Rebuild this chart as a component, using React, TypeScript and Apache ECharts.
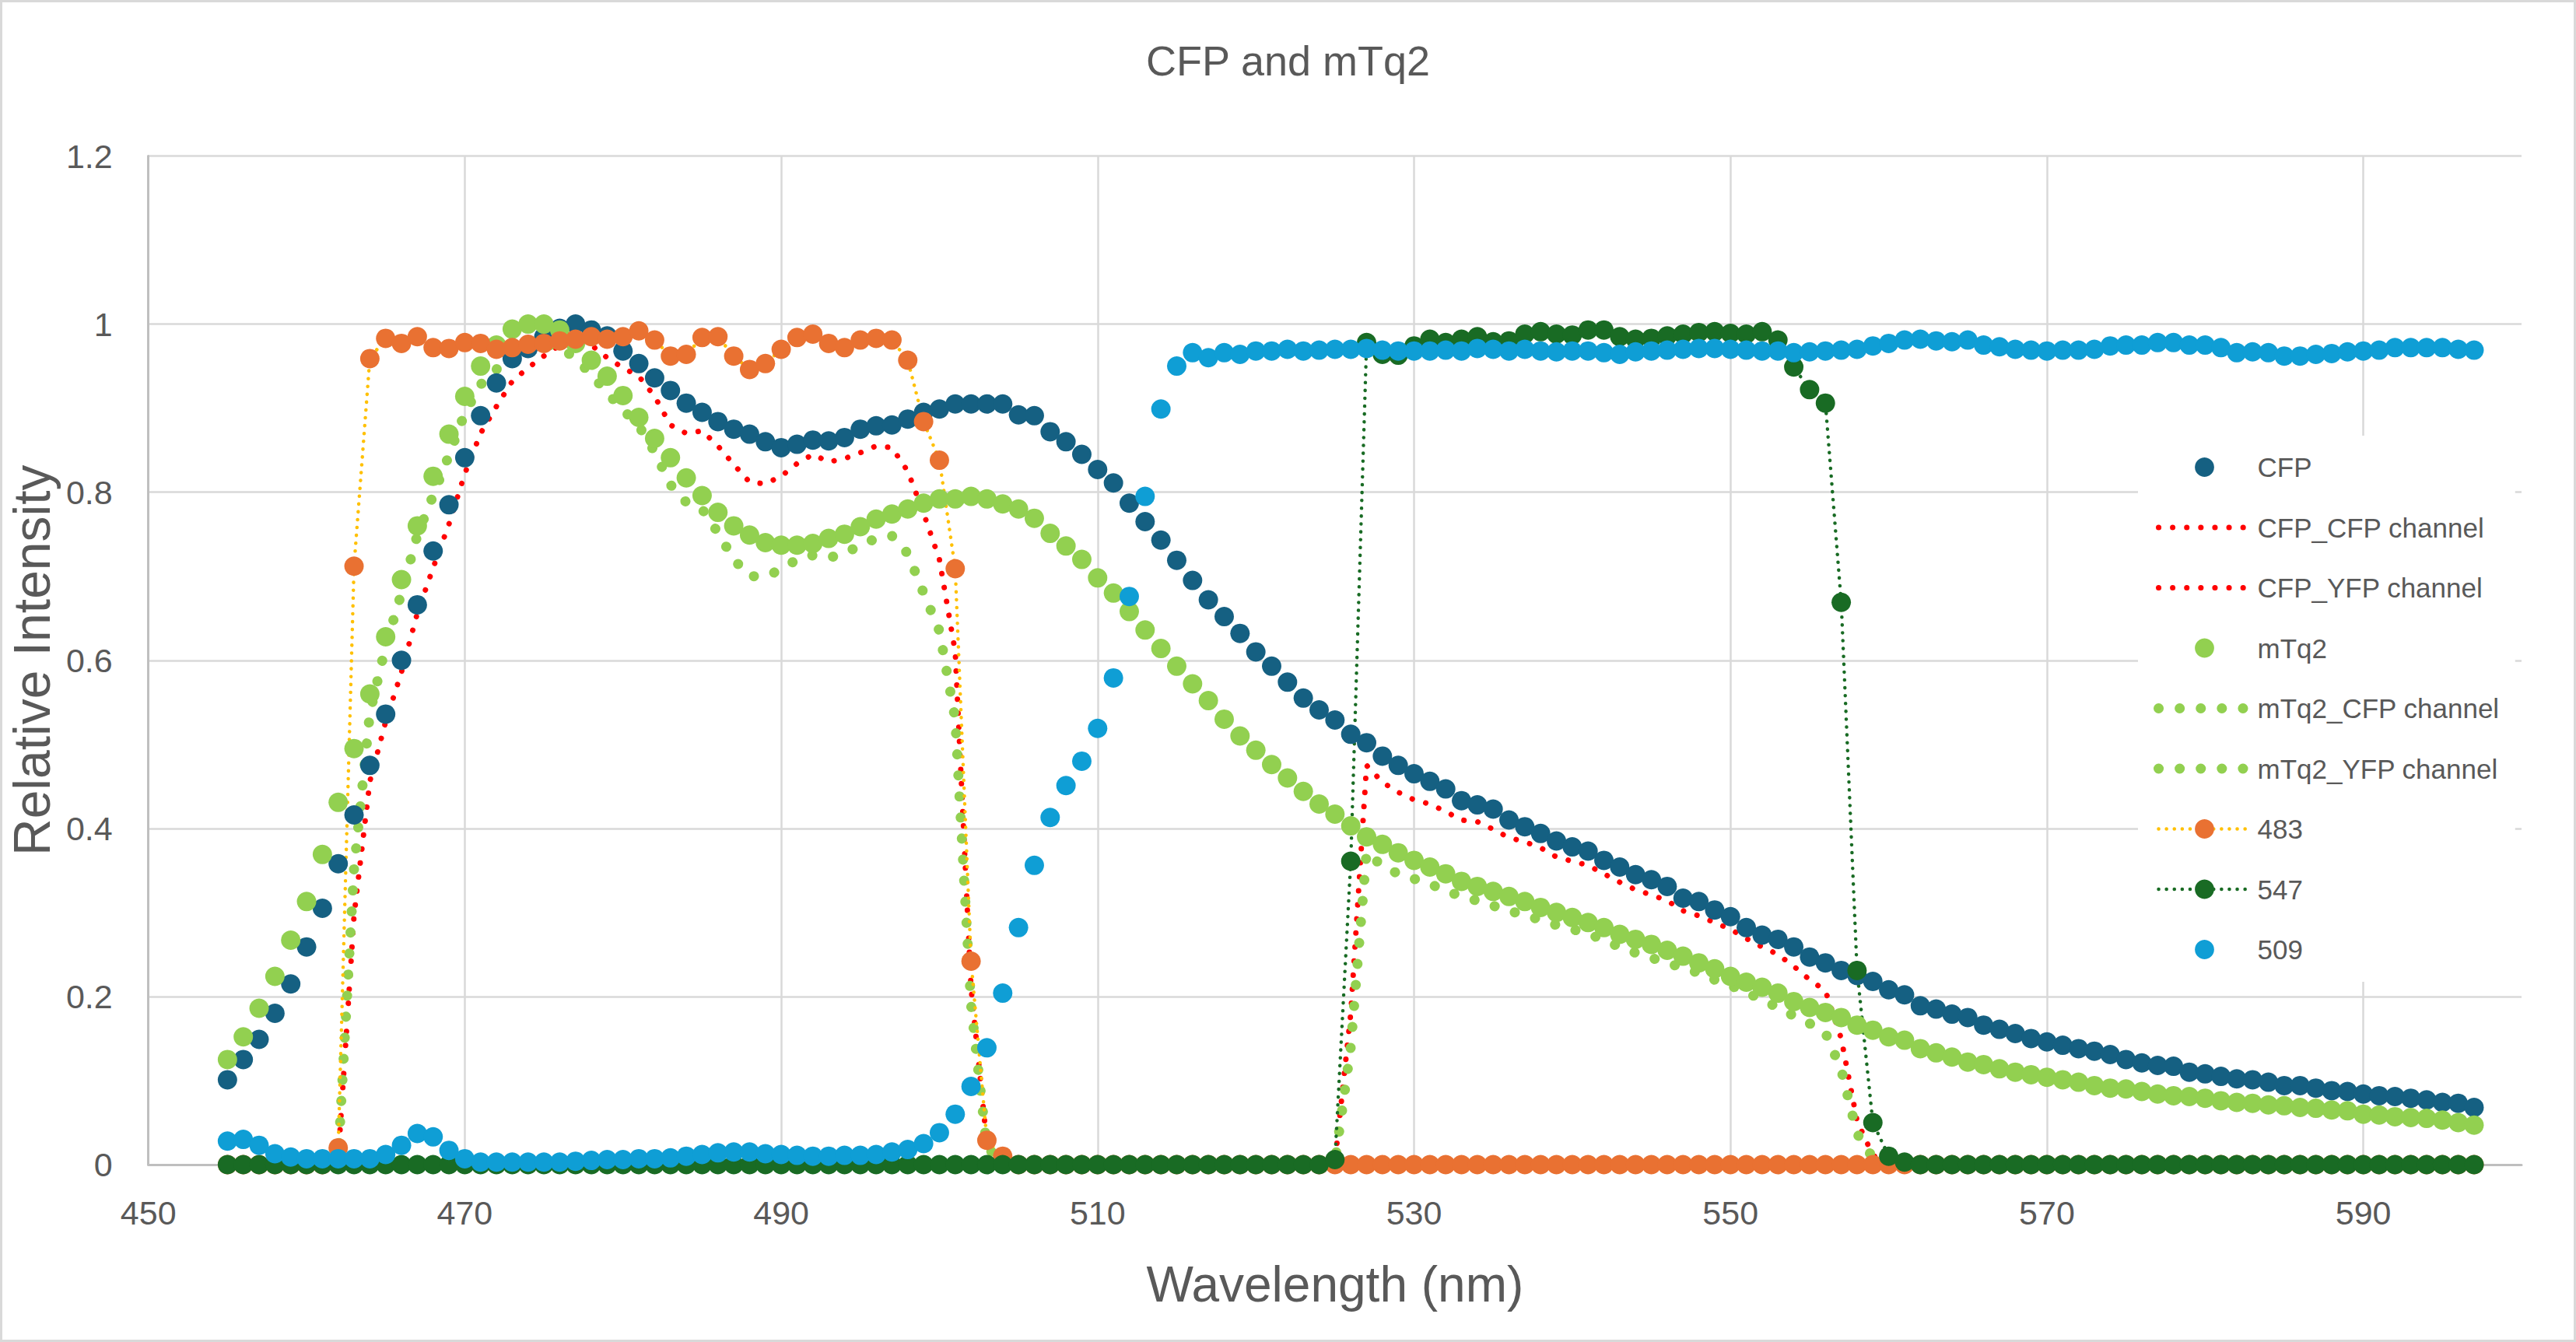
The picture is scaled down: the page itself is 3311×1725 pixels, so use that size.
import React, { useEffect, useRef } from "react";
import * as echarts from "echarts";

// Wavelengths start at 455 nm and step by 1 nm (143 samples, 455..597)
const START_NM = 455;

const CFP = [
  0.101, 0.125, 0.149, 0.180, 0.215, 0.259, 0.305, 0.358, 0.416, 0.475,
  0.536, 0.600, 0.666, 0.730, 0.785, 0.841, 0.891, 0.930, 0.959, 0.971,
  0.985, 0.995, 1.000, 0.993, 0.986, 0.968, 0.953, 0.936, 0.921, 0.906,
  0.895, 0.884, 0.875, 0.869, 0.860, 0.853, 0.857, 0.862, 0.861, 0.865,
  0.875, 0.879, 0.880, 0.887, 0.895, 0.899, 0.905, 0.905, 0.905, 0.905,
  0.892, 0.891, 0.872, 0.860, 0.845, 0.827, 0.811, 0.787, 0.765, 0.743,
  0.719, 0.695, 0.672, 0.652, 0.632, 0.610, 0.593, 0.574, 0.555, 0.541,
  0.529, 0.512, 0.502, 0.486, 0.475, 0.465, 0.456, 0.447, 0.433, 0.428,
  0.423, 0.410, 0.402, 0.394, 0.385, 0.378, 0.373, 0.362, 0.354, 0.345,
  0.339, 0.331, 0.317, 0.313, 0.303, 0.295, 0.282, 0.273, 0.268, 0.259,
  0.247, 0.240, 0.231, 0.225, 0.218, 0.208, 0.202, 0.189, 0.185, 0.179,
  0.175, 0.166, 0.161, 0.156, 0.150, 0.146, 0.142, 0.138, 0.135, 0.131,
  0.125, 0.121, 0.118, 0.117, 0.110, 0.108, 0.105, 0.102, 0.101, 0.098,
  0.094, 0.094, 0.091, 0.088, 0.087, 0.084, 0.082, 0.081, 0.079, 0.077,
  0.074, 0.073, 0.068,
];

const CFP_CFP = [
  0, 0, 0, 0, 0, 0, 0, 0.007, 0.296, 0.456,
  0.527, 0.586, 0.656, 0.710, 0.762, 0.822, 0.870, 0.902, 0.932, 0.948,
  0.962, 0.975, 0.980, 0.975, 0.960, 0.948, 0.938, 0.914, 0.880, 0.870,
  0.873, 0.855, 0.833, 0.812, 0.810, 0.819, 0.834, 0.845, 0.836, 0.840,
  0.847, 0.855, 0.853, 0.825, 0.775, 0.720, 0.610, 0.210, 0.025, 0.005,
  0, 0, 0, 0, 0, 0, 0, 0, 0, 0,
  0, 0, 0, 0, 0, 0, 0, 0, 0, 0,
  0, 0, 0, 0, 0, 0, 0, 0, 0, 0,
  0, 0, 0, 0, 0, 0, 0, 0, 0, 0,
  0, 0, 0, 0, 0, 0, 0, 0, 0, 0,
  0, 0, 0, 0, 0, 0, 0, 0, 0, 0,
  0, 0, 0, 0, 0, 0, 0, 0, 0, 0,
  0, 0, 0, 0, 0, 0, 0, 0, 0, 0,
  0, 0, 0, 0, 0, 0, 0, 0, 0, 0,
  0, 0, 0,
];

const CFP_YFP = [
  0, 0, 0, 0, 0, 0, 0, 0, 0, 0,
  0, 0, 0, 0, 0, 0, 0, 0, 0, 0,
  0, 0, 0, 0, 0, 0, 0, 0, 0, 0,
  0, 0, 0, 0, 0, 0, 0, 0, 0, 0,
  0, 0, 0, 0, 0, 0, 0, 0, 0, 0,
  0, 0, 0, 0, 0, 0, 0, 0, 0, 0,
  0, 0, 0, 0, 0, 0, 0, 0, 0, 0,
  0.003, 0.180, 0.475, 0.455, 0.443, 0.434, 0.429, 0.420, 0.410, 0.408,
  0.399, 0.389, 0.384, 0.377, 0.366, 0.361, 0.356, 0.346, 0.336, 0.327,
  0.321, 0.314, 0.302, 0.296, 0.288, 0.280, 0.269, 0.259, 0.250, 0.236,
  0.220, 0.207, 0.150, 0.052, 0.011, 0.002, 0, 0, 0, 0,
  0, 0, 0, 0, 0, 0, 0, 0, 0, 0,
  0, 0, 0, 0, 0, 0, 0, 0, 0, 0,
  0, 0, 0, 0, 0, 0, 0, 0, 0, 0,
  0, 0, 0,
];

const MTQ2 = [
  0.125, 0.152, 0.186, 0.224, 0.267, 0.313, 0.369, 0.431, 0.495, 0.560,
  0.628, 0.696, 0.760, 0.819, 0.869, 0.914, 0.950, 0.975, 0.994, 1.000,
  1.000, 0.993, 0.977, 0.957, 0.938, 0.915, 0.889, 0.864, 0.841, 0.817,
  0.796, 0.776, 0.760, 0.749, 0.740, 0.737, 0.737, 0.739, 0.745, 0.750,
  0.759, 0.768, 0.774, 0.780, 0.787, 0.792, 0.792, 0.795, 0.792, 0.786,
  0.780, 0.769, 0.751, 0.736, 0.720, 0.698, 0.680, 0.658, 0.636, 0.614,
  0.593, 0.572, 0.552, 0.530, 0.510, 0.493, 0.476, 0.460, 0.444, 0.429,
  0.417, 0.403, 0.390, 0.381, 0.371, 0.362, 0.354, 0.346, 0.337, 0.331,
  0.325, 0.319, 0.313, 0.306, 0.300, 0.294, 0.288, 0.282, 0.274, 0.268,
  0.262, 0.255, 0.248, 0.240, 0.233, 0.224, 0.217, 0.211, 0.204, 0.194,
  0.187, 0.181, 0.175, 0.166, 0.160, 0.152, 0.148, 0.138, 0.133, 0.128,
  0.122, 0.119, 0.114, 0.110, 0.107, 0.104, 0.101, 0.098, 0.094, 0.091,
  0.090, 0.087, 0.084, 0.082, 0.081, 0.079, 0.076, 0.074, 0.073, 0.071,
  0.070, 0.068, 0.067, 0.065, 0.064, 0.060, 0.059, 0.057, 0.056, 0.055,
  0.053, 0.050, 0.047,
];

const MTQ2_CFP = [
  0, 0, 0, 0, 0, 0, 0, 0.009, 0.352, 0.537,
  0.617, 0.680, 0.749, 0.796, 0.844, 0.894, 0.928, 0.946, 0.966, 0.976,
  0.977, 0.973, 0.959, 0.940, 0.918, 0.898, 0.879, 0.848, 0.809, 0.788,
  0.780, 0.752, 0.720, 0.700, 0.700, 0.708, 0.720, 0.725, 0.722, 0.727,
  0.737, 0.745, 0.748, 0.727, 0.680, 0.635, 0.530, 0.190, 0.020, 0.004,
  0, 0, 0, 0, 0, 0, 0, 0, 0, 0,
  0, 0, 0, 0, 0, 0, 0, 0, 0, 0,
  0, 0, 0, 0, 0, 0, 0, 0, 0, 0,
  0, 0, 0, 0, 0, 0, 0, 0, 0, 0,
  0, 0, 0, 0, 0, 0, 0, 0, 0, 0,
  0, 0, 0, 0, 0, 0, 0, 0, 0, 0,
  0, 0, 0, 0, 0, 0, 0, 0, 0, 0,
  0, 0, 0, 0, 0, 0, 0, 0, 0, 0,
  0, 0, 0, 0, 0, 0, 0, 0, 0, 0,
  0, 0, 0,
];

const MTQ2_YFP = [
  0, 0, 0, 0, 0, 0, 0, 0, 0, 0,
  0, 0, 0, 0, 0, 0, 0, 0, 0, 0,
  0, 0, 0, 0, 0, 0, 0, 0, 0, 0,
  0, 0, 0, 0, 0, 0, 0, 0, 0, 0,
  0, 0, 0, 0, 0, 0, 0, 0, 0, 0,
  0, 0, 0, 0, 0, 0, 0, 0, 0, 0,
  0, 0, 0, 0, 0, 0, 0, 0, 0, 0,
  0.003, 0.140, 0.372, 0.355, 0.346, 0.340, 0.334, 0.326, 0.319, 0.314,
  0.308, 0.302, 0.297, 0.291, 0.285, 0.280, 0.275, 0.267, 0.259, 0.252,
  0.246, 0.240, 0.234, 0.228, 0.220, 0.213, 0.205, 0.196, 0.187, 0.177,
  0.168, 0.157, 0.113, 0.037, 0.008, 0.001, 0, 0, 0, 0,
  0, 0, 0, 0, 0, 0, 0, 0, 0, 0,
  0, 0, 0, 0, 0, 0, 0, 0, 0, 0,
  0, 0, 0, 0, 0, 0, 0, 0, 0, 0,
  0, 0, 0,
];

const F483 = [
  0, 0, 0, 0, 0, 0, 0, 0.020, 0.712, 0.959,
  0.983, 0.977, 0.985, 0.972, 0.971, 0.978, 0.977, 0.970, 0.972, 0.976,
  0.977, 0.980, 0.982, 0.985, 0.982, 0.985, 0.992, 0.981, 0.962, 0.964,
  0.984, 0.985, 0.962, 0.946, 0.953, 0.970, 0.984, 0.988, 0.977, 0.972,
  0.981, 0.983, 0.981, 0.957, 0.884, 0.838, 0.709, 0.242, 0.029, 0.010,
  0, 0, 0, 0, 0, 0, 0, 0, 0, 0,
  0, 0, 0, 0, 0, 0, 0, 0, 0, 0,
  0, 0, 0, 0, 0, 0, 0, 0, 0, 0,
  0, 0, 0, 0, 0, 0, 0, 0, 0, 0,
  0, 0, 0, 0, 0, 0, 0, 0, 0, 0,
  0, 0, 0, 0, 0, 0, 0, 0, 0, 0,
  0, 0, 0, 0, 0, 0, 0, 0, 0, 0,
  0, 0, 0, 0, 0, 0, 0, 0, 0, 0,
  0, 0, 0, 0, 0, 0, 0, 0, 0, 0,
  0, 0, 0,
];

const F547 = [
  0, 0, 0, 0, 0, 0, 0, 0, 0, 0,
  0, 0, 0, 0, 0, 0, 0, 0, 0, 0,
  0, 0, 0, 0, 0, 0, 0, 0, 0, 0,
  0, 0, 0, 0, 0, 0, 0, 0, 0, 0,
  0, 0, 0, 0, 0, 0, 0, 0, 0, 0,
  0, 0, 0, 0, 0, 0, 0, 0, 0, 0,
  0, 0, 0, 0, 0, 0, 0, 0, 0, 0,
  0.006, 0.361, 0.978, 0.964, 0.963, 0.974, 0.982, 0.978, 0.982, 0.985,
  0.979, 0.980, 0.988, 0.991, 0.988, 0.987, 0.993, 0.993, 0.985, 0.982,
  0.983, 0.986, 0.988, 0.990, 0.991, 0.989, 0.988, 0.991, 0.981, 0.949,
  0.922, 0.906, 0.669, 0.231, 0.050, 0.010, 0.003, 0, 0, 0,
  0, 0, 0, 0, 0, 0, 0, 0, 0, 0,
  0, 0, 0, 0, 0, 0, 0, 0, 0, 0,
  0, 0, 0, 0, 0, 0, 0, 0, 0, 0,
  0, 0, 0,
];

const F509 = [
  0.028, 0.030, 0.023, 0.013, 0.009, 0.007, 0.007, 0.007, 0.007, 0.007,
  0.012, 0.023, 0.037, 0.033, 0.017, 0.007, 0.003, 0.003, 0.003, 0.003,
  0.003, 0.003, 0.004, 0.005, 0.006, 0.006, 0.007, 0.007, 0.008, 0.010,
  0.012, 0.014, 0.015, 0.015, 0.013, 0.012, 0.011, 0.010, 0.010, 0.011,
  0.011, 0.012, 0.015, 0.018, 0.025, 0.038, 0.060, 0.093, 0.139, 0.204,
  0.282, 0.356, 0.413, 0.451, 0.480, 0.519, 0.579, 0.676, 0.795, 0.899,
  0.950, 0.966, 0.960, 0.966, 0.964, 0.968, 0.968, 0.970, 0.968, 0.969,
  0.970, 0.970, 0.971, 0.969, 0.968, 0.968, 0.968, 0.969, 0.968, 0.971,
  0.970, 0.968, 0.970, 0.968, 0.967, 0.968, 0.968, 0.966, 0.964, 0.967,
  0.968, 0.969, 0.970, 0.971, 0.971, 0.970, 0.969, 0.968, 0.968, 0.966,
  0.967, 0.968, 0.969, 0.970, 0.974, 0.977, 0.981, 0.982, 0.980, 0.979,
  0.981, 0.975, 0.973, 0.970, 0.969, 0.968, 0.969, 0.969, 0.970, 0.974,
  0.975, 0.975, 0.978, 0.978, 0.975, 0.975, 0.972, 0.966, 0.967, 0.966,
  0.962, 0.962, 0.964, 0.965, 0.967, 0.968, 0.969, 0.972, 0.972, 0.972,
  0.972, 0.970, 0.969,
];

const X_MIN = 450;
const X_MAX = 600;
const X_STEP = 20;
const Y_MIN = 0;
const Y_MAX = 1.2;
const Y_STEP = 0.2;

function pairs(values: number[]) {
  return values.map((v, i) => [START_NM + i, v]);
}

export default function App() {
  const ref = useRef<HTMLDivElement>(null);

  useEffect(() => {
    if (!ref.current) return;
    const chart = echarts.init(ref.current, undefined, { renderer: "svg" });
    const font = "'Liberation Sans', Arial, sans-serif";
    const textColor = "#595959";
    const MS = 25;

    const markerSeries = (name: string, values: number[], color: string) => ({
      name,
      type: "line",
      data: pairs(values),
      symbol: "circle",
      symbolSize: MS,
      itemStyle: { color },
      lineStyle: { width: 0, color },
      emphasis: { disabled: true },
      silent: true,
    });
    const dottedSeries = (name: string, values: number[], color: string, width: number, gap: number) => ({
      name,
      type: "line",
      data: pairs(values),
      symbol: "none",
      itemStyle: { color },
      lineStyle: { color, width, type: [0.1, gap], cap: "round" },
      emphasis: { disabled: true },
      silent: true,
    });
    const filterSeries = (name: string, values: number[], markerColor: string, lineColor: string) => ({
      name,
      type: "line",
      data: pairs(values),
      symbol: "circle",
      symbolSize: MS,
      itemStyle: { color: markerColor },
      lineStyle: { color: lineColor, width: 4.5, type: [0.1, 10], cap: "round" },
      emphasis: { disabled: true },
      silent: true,
    });

    const hidden = { color: "rgba(0,0,0,0)", borderColor: "rgba(0,0,0,0)", opacity: 0 };

    chart.setOption({
      animation: false,
      backgroundColor: "#ffffff",
      title: {
        text: "CFP and mTq2",
        left: "center",
        top: 51,
        padding: 0,
        textStyle: { fontFamily: font, fontSize: 54, fontWeight: "normal", color: textColor },
      },
      grid: { left: 179.5, right: 70, top: 200.5, bottom: 228, containLabel: false },
      xAxis: {
        type: "value",
        min: X_MIN,
        max: X_MAX,
        interval: X_STEP,
        name: "Wavelength (nm)",
        nameLocation: "middle",
        nameGap: 122,
        nameTextStyle: { fontFamily: font, fontSize: 64, color: textColor },
        axisLine: { show: true, onZero: false, lineStyle: { color: "#bfbfbf", width: 3 } },
        axisTick: { show: false },
        axisLabel: { fontFamily: font, fontSize: 43, color: textColor, margin: 40, showMaxLabel: false },
        splitLine: { show: true, showMaxLine: false, lineStyle: { color: "#d9d9d9", width: 2.5 } },
      },
      yAxis: {
        type: "value",
        min: Y_MIN,
        max: Y_MAX,
        interval: Y_STEP,
        name: "Relative Intensity",
        nameLocation: "middle",
        nameGap: 62,
        nameTextStyle: { fontFamily: font, fontSize: 66, color: textColor },
        axisLine: { show: true, lineStyle: { color: "#bfbfbf", width: 3 } },
        axisTick: { show: false },
        axisLabel: { fontFamily: font, fontSize: 43, color: textColor, margin: 46 },
        splitLine: { show: true, lineStyle: { color: "#d9d9d9", width: 2.5 } },
      },
      legend: {
        orient: "vertical",
        left: 2748,
        top: 560,
        padding: [23, 20, 24, 20],
        backgroundColor: "#ffffff",
        itemWidth: 118,
        itemHeight: 31,
        itemGap: 42.5,
        selectedMode: false,
        textStyle: { fontFamily: font, fontSize: 35, color: textColor, lineHeight: 31, padding: [0, 0, 0, 4] },
        data: [
          { name: "CFP" },
          { name: "CFP_CFP channel", itemStyle: hidden, lineStyle: { width: 7 } },
          { name: "CFP_YFP channel", itemStyle: hidden, lineStyle: { width: 7 } },
          { name: "mTq2" },
          { name: "mTq2_CFP channel", itemStyle: hidden, lineStyle: { width: 13 } },
          { name: "mTq2_YFP channel", itemStyle: hidden, lineStyle: { width: 13 } },
          { name: "483", lineStyle: { width: 4.5 } },
          { name: "547", lineStyle: { width: 4.5 } },
          { name: "509" },
        ],
      },
      graphic: [
        {
          type: "rect",
          silent: true,
          z: 100,
          shape: { x: 1.5, y: 1.5, width: 3308, height: 1722 },
          style: { fill: "none", stroke: "#d9d9d9", lineWidth: 3 },
        },
      ],
      series: [
        markerSeries("CFP", CFP, "#156082"),
        dottedSeries("CFP_CFP channel", CFP_CFP, "#ff0000", 7, 18),
        dottedSeries("CFP_YFP channel", CFP_YFP, "#ff0000", 7, 18),
        markerSeries("mTq2", MTQ2, "#92d050"),
        dottedSeries("mTq2_CFP channel", MTQ2_CFP, "#92d050", 13, 27),
        dottedSeries("mTq2_YFP channel", MTQ2_YFP, "#92d050", 13, 27),
        filterSeries("483", F483, "#e97132", "#ffc000"),
        filterSeries("547", F547, "#196b24", "#196b24"),
        markerSeries("509", F509, "#0f9ed5"),
      ],
    });

    return () => {
      chart.dispose();
    };
  }, []);

  return (
    <div
      ref={ref}
      style={{ position: "fixed", left: 0, top: 0, width: 3311, height: 1725, background: "#ffffff" }}
    />
  );
}
